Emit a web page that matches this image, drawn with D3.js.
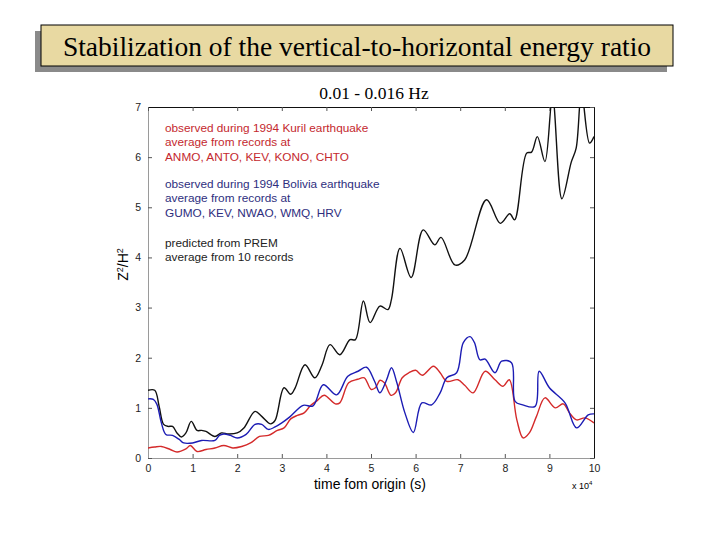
<!DOCTYPE html>
<html>
<head>
<meta charset="utf-8">
<script src="https://cdn.jsdelivr.net/npm/d3@7"></script>
<style>
  body { margin: 0; background: #fff; }
  svg text { font-family: "Liberation Sans", Arial, sans-serif; }
</style>
</head>
<body>
<div id="chart"></div>
<script>
// time in units of 1e4 s
let kurilT = [0,0.15,0.3,0.5,0.65,0.85,0.95,1.1,1.3,1.5,1.7,1.9,2.1,2.3,2.5,2.7,2.9,3.05,3.2,3.35,3.5,3.65,3.8,3.95,4.2,4.3,4.5,4.7,4.85,5.0,5.1,5.2,5.3,5.45,5.55,5.7,5.85,6.0,6.15,6.4,6.55,6.7,6.95,7.1,7.29,7.56,7.78,7.96,8.1,8.27,8.41,8.55,8.71,8.9,9.13,9.31,9.45,9.61,9.8,10];
let kurilV = [0.2,0.22,0.23,0.17,0.12,0.18,0.25,0.13,0.17,0.2,0.25,0.2,0.23,0.3,0.43,0.45,0.55,0.6,0.78,0.85,0.9,1.05,1.15,1.25,1.08,1.1,1.5,1.57,1.6,1.37,1.4,1.55,1.5,1.25,1.3,1.6,1.7,1.75,1.65,1.83,1.7,1.53,1.56,1.45,1.3,1.73,1.56,1.43,1.56,0.76,0.4,0.5,0.83,1.2,1.0,1.08,0.9,0.76,0.8,0.7];

let boliviaT = [0,0.12,0.2,0.3,0.4,0.55,0.7,0.8,1.0,1.2,1.5,1.6,1.7,1.85,2.0,2.2,2.4,2.55,2.7,2.85,3.0,3.18,3.48,3.7,3.93,4.23,4.48,4.71,4.9,5.08,5.2,5.35,5.46,5.58,5.76,5.95,6.14,6.36,6.55,6.7,6.92,7.07,7.22,7.32,7.44,7.56,7.78,7.93,8.15,8.23,8.4,8.68,8.77,9.0,9.35,9.61,9.87,10];
let boliviaV = [1.18,1.17,1.07,0.7,0.47,0.45,0.37,0.3,0.3,0.35,0.35,0.45,0.48,0.45,0.4,0.47,0.67,0.67,0.57,0.62,0.7,0.82,1.05,1.04,1.46,1.26,1.63,1.73,1.81,1.53,1.3,1.56,1.8,1.5,0.9,0.51,1.1,1.06,1.3,1.6,1.7,2.3,2.42,2.3,1.96,1.97,1.7,1.93,1.9,1.13,1.06,1.03,1.73,1.4,1.1,0.6,0.86,0.88];

let premT = [0,0.15,0.25,0.35,0.45,0.55,0.65,0.75,0.85,0.97,1.1,1.2,1.3,1.5,1.65,1.8,2.0,2.15,2.4,2.55,2.75,2.85,3.05,3.2,3.3,3.52,3.74,3.9,4.08,4.3,4.53,4.65,4.83,4.98,5.2,5.38,5.46,5.65,5.9,6.17,6.43,6.57,6.88,7.1,7.59,7.9,8.11,8.22,8.49,8.6,8.73,8.9,9.07,9.28,9.49,9.6,9.72,9.9,10];
let premV = [1.35,1.35,1.03,0.67,0.63,0.63,0.5,0.42,0.5,0.73,0.55,0.55,0.53,0.43,0.5,0.48,0.5,0.6,0.93,0.83,0.68,0.75,1.4,1.27,1.4,1.86,1.6,1.85,2.26,2.06,2.36,2.36,3.13,2.7,3.03,2.96,3.17,4.18,3.6,4.55,4.25,4.4,3.85,3.95,5.15,4.68,4.87,4.75,6.08,6.1,6.41,5.91,7.2,5.17,5.9,6.18,7.3,6.28,6.41];

let xTicks = d3.range(0, 11);
let yTicks = d3.range(0, 8);

let legendRed = ["observed during 1994 Kuril earthquake", "average from records at", "ANMO, ANTO, KEV, KONO, CHTO"];
let legendBlue = ["observed during 1994 Bolivia earthquake", "average from records at", "GUMO, KEV, NWAO, WMQ, HRV"];
let legendBlack = ["predicted from PREM", "average from 10 records"];

let W = 720, H = 540;
let margin = {top: 107, right: 126, bottom: 82, left: 148},
    width = W - margin.left - margin.right,
    height = H - margin.top - margin.bottom;

let svg = d3.select("#chart").append("svg")
    .attr("width", W)
    .attr("height", H);

// title box with shadow
svg.append("rect")
    .attr("x", 35).attr("y", 31)
    .attr("width", 632).attr("height", 41)
    .attr("fill", "#8a8a8a");
svg.append("rect")
    .attr("x", 41).attr("y", 25)
    .attr("width", 632).attr("height", 41)
    .attr("fill", "#e8d9a2")
    .attr("stroke", "#000")
    .attr("stroke-width", 1);
svg.append("text")
    .attr("x", 357).attr("y", 56)
    .attr("text-anchor", "middle")
    .style("font-family", "'Liberation Serif', 'Times New Roman', serif")
    .style("font-size", "27.5px")
    .text("Stabilization of the vertical-to-horizontal energy ratio");

svg.append("text")
    .attr("x", 374).attr("y", 99)
    .attr("text-anchor", "middle")
    .style("font-family", "'Liberation Serif', 'Times New Roman', serif")
    .style("font-size", "17.5px")
    .text("0.01 - 0.016 Hz");

let x = d3.scaleLinear().domain([0, 10]).range([0, width]);
let y = d3.scaleLinear().domain([0, 7]).range([height, 0]);

let g = svg.append("g")
    .attr("transform", "translate(" + margin.left + "," + margin.top + ")");

g.append("clipPath").attr("id", "clip")
    .append("rect").attr("width", width).attr("height", height);

// axes, MATLAB style inward ticks
let axBottom = g.append("g")
    .attr("transform", "translate(0," + height + ")")
    .call(d3.axisBottom(x).tickValues(xTicks).tickFormat(d3.format("d"))
        .tickSizeInner(-4).tickSizeOuter(0).tickPadding(7));
let axLeft = g.append("g")
    .call(d3.axisLeft(y).tickValues(yTicks).tickFormat(d3.format("d"))
        .tickSizeInner(-4).tickSizeOuter(0).tickPadding(7));
let axTop = g.append("g")
    .call(d3.axisTop(x).tickValues(xTicks).tickSizeInner(-4).tickSizeOuter(0).tickFormat(""));
let axRight = g.append("g")
    .attr("transform", "translate(" + width + ",0)")
    .call(d3.axisRight(y).tickValues(yTicks).tickSizeInner(-4).tickSizeOuter(0).tickFormat(""));

[axBottom, axLeft].forEach(function(a) {
    a.select(".domain").attr("stroke", "#9a9a9a");
    a.selectAll(".tick line").attr("stroke", "#555");
    a.selectAll("text").style("font-size", "10.5px").attr("fill", "#222");
});
[axTop, axRight].forEach(function(a) {
    a.select(".domain").attr("stroke", "#111");
    a.selectAll(".tick line").attr("stroke", "#555");
});

// axis labels
g.append("text")
    .attr("x", 222).attr("y", height + 31)
    .attr("text-anchor", "middle")
    .style("font-size", "14px")
    .text("time fom origin (s)");

let xExp = g.append("text")
    .attr("x", width - 22).attr("y", height + 31)
    .style("font-size", "9px");
xExp.append("tspan").text("x 10");
xExp.append("tspan").attr("dy", -4).style("font-size", "6px").text("4");

let yLab = g.append("text")
    .attr("transform", "translate(-20," + (height / 2 - 18) + ") rotate(-90)")
    .attr("text-anchor", "middle")
    .style("font-size", "14px");
yLab.append("tspan").text("Z");
yLab.append("tspan").attr("dy", -5).style("font-size", "9px").text("2");
yLab.append("tspan").attr("dy", 5).text("/H");
yLab.append("tspan").attr("dy", -5).style("font-size", "9px").text("2");

// curves
function series(ts, vs) {
    return ts.map(function(t, i) { return {t: t, v: vs[i]}; });
}
let line = d3.line()
    .x(function(d) { return x(d.t); })
    .y(function(d) { return y(d.v); })
    .curve(d3.curveCatmullRom.alpha(0.5));

let plot = g.append("g").attr("clip-path", "url(#clip)");
plot.append("path").datum(series(premT, premV))
    .attr("fill", "none").attr("stroke", "#111").attr("stroke-width", 1.4).attr("d", line);
plot.append("path").datum(series(kurilT, kurilV))
    .attr("fill", "none").attr("stroke", "#d42a2a").attr("stroke-width", 1.4).attr("d", line);
plot.append("path").datum(series(boliviaT, boliviaV))
    .attr("fill", "none").attr("stroke", "#1c1cb4").attr("stroke-width", 1.4).attr("d", line);

// legend text
function legendBlock(lines, y0, color) {
    g.selectAll(null).data(lines).enter().append("text")
        .attr("x", 17)
        .attr("y", function(d, i) { return y0 + i * 14.4; })
        .attr("fill", color)
        .style("font-size", "11.8px")
        .text(function(d) { return d; });
}
legendBlock(legendRed, 25, "#c4282e");
legendBlock(legendBlue, 81, "#2e2e7e");
legendBlock(legendBlack, 140, "#222");
</script>
</body>
</html>
